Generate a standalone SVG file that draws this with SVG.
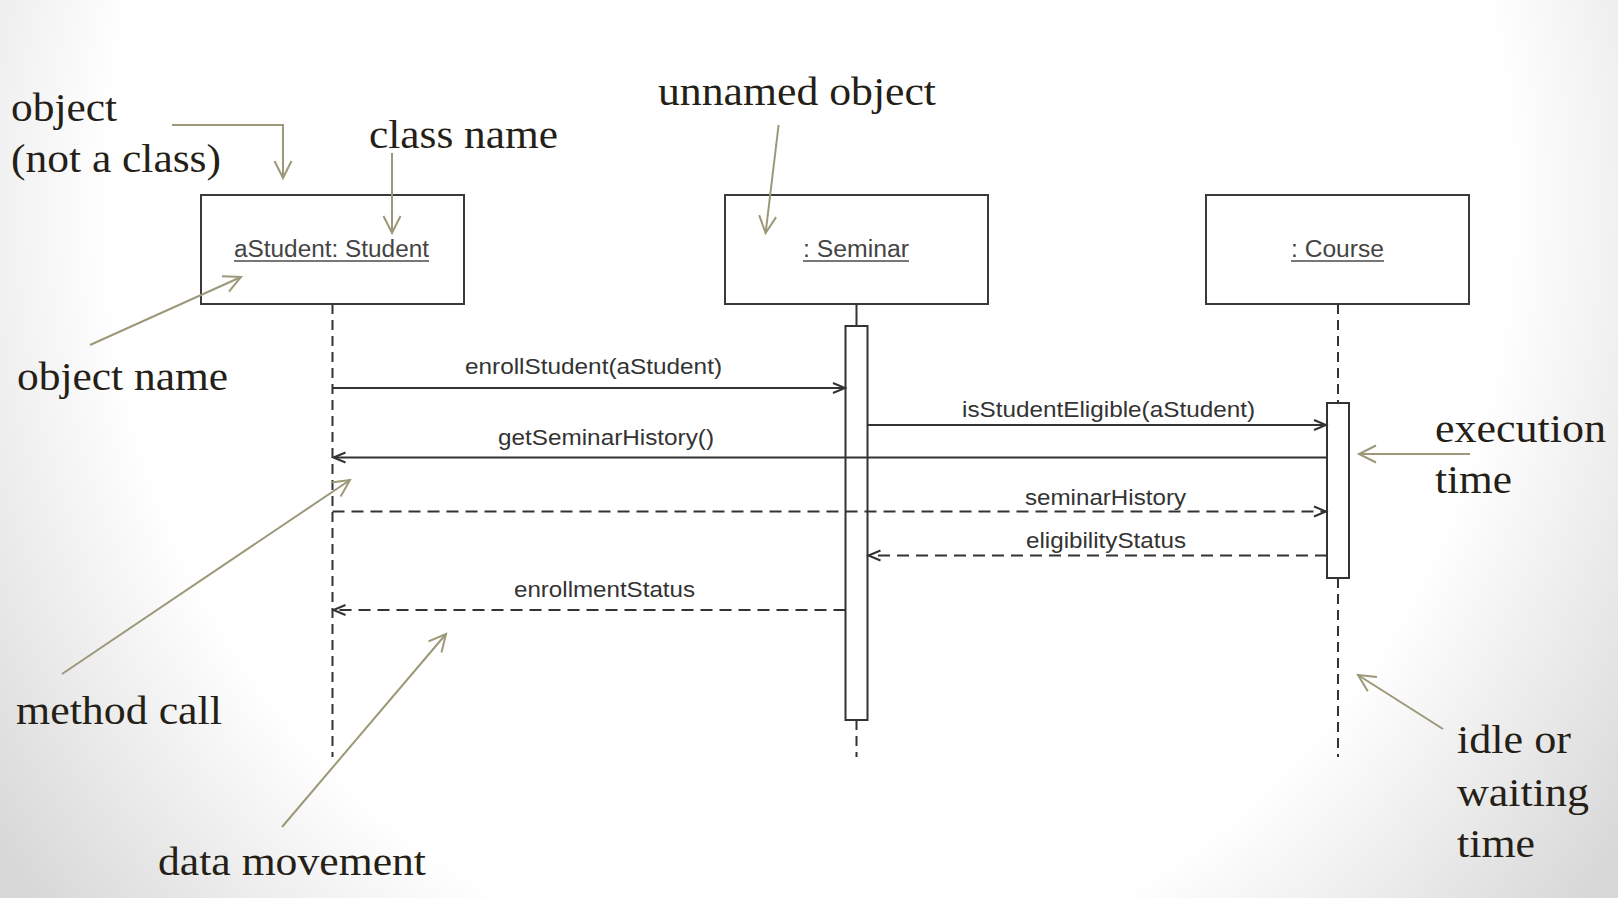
<svg xmlns="http://www.w3.org/2000/svg" width="1618" height="898" viewBox="0 0 1618 898">
<style>
.ann{font-family:"Liberation Serif","Times New Roman",serif;font-size:40px;fill:#251f18}
.msg{font-family:"Liberation Sans",Arial,sans-serif;font-size:22px;fill:#333}
.obj{font-family:"Liberation Sans",Arial,sans-serif;font-size:23px;fill:#444}
.box{fill:#fff;stroke:#3a3a3a;stroke-width:2}
.act{fill:#fff;stroke:#333;stroke-width:2}
.life{stroke:#333;stroke-width:2;stroke-dasharray:10 6;fill:none}
.solid{stroke:#333;stroke-width:2;fill:none}
.ret{stroke:#333;stroke-width:2;stroke-dasharray:12 7;fill:none}
.call{stroke:#9c9878;stroke-width:2;fill:none}
.ul{stroke:#777;stroke-width:2}
</style>
<defs>
<radialGradient id="bg" cx="809" cy="200" r="1000" gradientUnits="userSpaceOnUse" gradientTransform="translate(809 200) scale(1 1.1) translate(-809 -200)">
<stop offset="0.7" stop-color="#ffffff"/>
<stop offset="1" stop-color="#d8d8d8"/>
</radialGradient>
<marker id="mArrow" markerUnits="userSpaceOnUse" markerWidth="20" markerHeight="14" viewBox="-13 -7 15 14" refX="0" refY="0" orient="auto">
<path d="M-12,-5 L0,0 L-12,5" fill="none" stroke="#333" stroke-width="2"/>
</marker>
<marker id="aArrow" markerUnits="userSpaceOnUse" markerWidth="24" markerHeight="22" viewBox="-19 -11 21 22" refX="0" refY="0" orient="auto">
<path d="M-17,-8.5 L0,0 L-17,8.5" fill="none" stroke="#9c9878" stroke-width="2"/>
</marker>
</defs>
<rect x="0" y="0" width="1618" height="898" fill="url(#bg)"/>

<g id="student">
<rect class="box" x="201" y="195" width="263" height="109"/>
<text class="obj" x="234" y="257" textLength="195" lengthAdjust="spacingAndGlyphs">aStudent: Student</text>
<line class="ul" x1="234" y1="261" x2="429" y2="261"/>
<line class="life" x1="332.5" y1="304" x2="332.5" y2="757"/>
</g>
<g id="seminar">
<rect class="box" x="725" y="195" width="263" height="109"/>
<text class="obj" x="803" y="257" textLength="106" lengthAdjust="spacingAndGlyphs">: Seminar</text>
<line class="ul" x1="803" y1="261" x2="909" y2="261"/>
<line class="solid" x1="856.5" y1="304" x2="856.5" y2="326"/>
<line class="life" x1="856.5" y1="720" x2="856.5" y2="757"/>
<rect class="act" x="845.5" y="326" width="22" height="394"/>
</g>
<g id="course">
<rect class="box" x="1206" y="195" width="263" height="109"/>
<text class="obj" x="1291" y="257" textLength="93" lengthAdjust="spacingAndGlyphs">: Course</text>
<line class="ul" x1="1291" y1="261" x2="1384" y2="261"/>
<line class="life" x1="1338" y1="304" x2="1338" y2="403"/>
<line class="life" x1="1338" y1="578" x2="1338" y2="757"/>
<rect class="act" x="1327" y="403" width="22" height="175"/>
</g>

<g id="connectors">
<line class="solid" x1="332.5" y1="388" x2="845" y2="388" marker-end="url(#mArrow)"/>
<line class="solid" x1="867.5" y1="425" x2="1326" y2="425" marker-end="url(#mArrow)"/>
<line class="solid" x1="1327" y1="457.5" x2="333.5" y2="457.5" marker-end="url(#mArrow)"/>
<line class="ret" x1="332.5" y1="511.5" x2="1326" y2="511.5" marker-end="url(#mArrow)"/>
<line class="ret" x1="1327" y1="555.5" x2="868.5" y2="555.5" marker-end="url(#mArrow)"/>
<line class="ret" x1="845.5" y1="610" x2="333.5" y2="610" marker-end="url(#mArrow)"/>

<polyline class="call" points="172,125 283,125 283,178" marker-end="url(#aArrow)"/>
<line class="call" x1="392" y1="153" x2="392" y2="233" marker-end="url(#aArrow)"/>
<line class="call" x1="90" y1="345" x2="241" y2="277" marker-end="url(#aArrow)"/>
<line class="call" x1="778.6" y1="125" x2="765.6" y2="233" marker-end="url(#aArrow)"/>
<line class="call" x1="62" y1="674" x2="350" y2="480" marker-end="url(#aArrow)"/>
<line class="call" x1="282" y1="827" x2="446" y2="634" marker-end="url(#aArrow)"/>
<line class="call" x1="1470" y1="454" x2="1359" y2="454" marker-end="url(#aArrow)"/>
<line class="call" x1="1443" y1="729" x2="1358" y2="675" marker-end="url(#aArrow)"/>
</g>

<g id="messageLabels">
<text class="msg" x="465" y="374" textLength="257" lengthAdjust="spacingAndGlyphs">enrollStudent(aStudent)</text>
<text class="msg" x="962" y="417" textLength="293" lengthAdjust="spacingAndGlyphs">isStudentEligible(aStudent)</text>
<text class="msg" x="498" y="445" textLength="216" lengthAdjust="spacingAndGlyphs">getSeminarHistory()</text>
<text class="msg" x="1025" y="505" textLength="161" lengthAdjust="spacingAndGlyphs">seminarHistory</text>
<text class="msg" x="1026" y="548" textLength="160" lengthAdjust="spacingAndGlyphs">eligibilityStatus</text>
<text class="msg" x="514" y="597" textLength="181" lengthAdjust="spacingAndGlyphs">enrollmentStatus</text>
</g>

<g id="annotations">
<text class="ann" x="11" y="121" textLength="106" lengthAdjust="spacingAndGlyphs">object</text>
<text class="ann" x="11" y="172" textLength="210" lengthAdjust="spacingAndGlyphs">(not a class)</text>
<text class="ann" x="369" y="148" textLength="189" lengthAdjust="spacingAndGlyphs">class name</text>
<text class="ann" x="17" y="390" textLength="211" lengthAdjust="spacingAndGlyphs">object name</text>
<text class="ann" x="658" y="105" textLength="278" lengthAdjust="spacingAndGlyphs">unnamed object</text>
<text class="ann" x="1435" y="442" textLength="171" lengthAdjust="spacingAndGlyphs">execution</text>
<text class="ann" x="1435" y="493" textLength="77" lengthAdjust="spacingAndGlyphs">time</text>
<text class="ann" x="16" y="724" textLength="206" lengthAdjust="spacingAndGlyphs">method call</text>
<text class="ann" x="158" y="875" textLength="268" lengthAdjust="spacingAndGlyphs">data movement</text>
<text class="ann" x="1457" y="753" textLength="114" lengthAdjust="spacingAndGlyphs">idle or</text>
<text class="ann" x="1457" y="806" textLength="132" lengthAdjust="spacingAndGlyphs">waiting</text>
<text class="ann" x="1457" y="857" textLength="78" lengthAdjust="spacingAndGlyphs">time</text>
</g>
</svg>
